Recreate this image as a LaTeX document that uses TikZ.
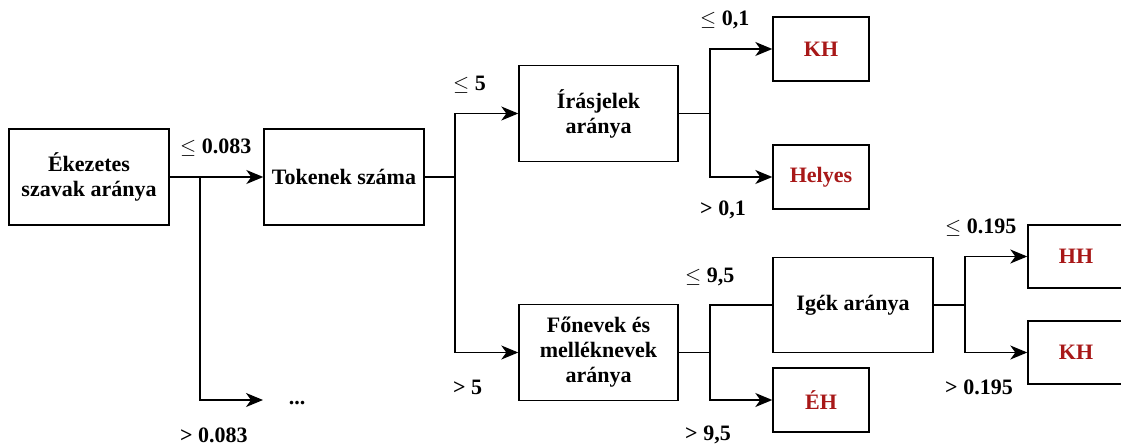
\documentclass[tikz,border=0pt]{standalone}
\usepackage{fontspec}
\setmainfont{Liberation Serif}
\usetikzlibrary{arrows.meta,positioning}
\definecolor{leafred}{RGB}{168,24,24}

\begin{document}
\begin{tikzpicture}[x=1pt,y=-1pt,
    font=\bfseries\fontsize{22}{25}\selectfont,
    box/.style={draw,line width=1.4pt,align=center,minimum width=160pt,minimum height=96pt},
    leaf/.style={draw,line width=1.4pt,text=leafred,minimum width=96pt,minimum height=64pt},
    cond/.style={anchor=west,inner sep=0pt},
    arr/.style={line width=1.4pt,-{Stealth[length=17pt,width=14pt,inset=5pt]}},
    ln/.style={line width=1.4pt}]
  \useasboundingbox (0,0) rectangle (1121,446);
  \clip (0,0) rectangle (1121,446);
  \node[box] (ek) at (89,177) {Ékezetes\\szavak aránya};
  \node[box] (tok) at (344,177) {Tokenek száma};
  \node[box,minimum width=159pt] (iras) at (598.5,113.5) {Írásjelek\\aránya};
  \node[box,minimum width=159pt] (fon) at (598.5,352.5) {Főnevek és\\melléknevek\\aránya};
  \node[box,minimum height=95pt] (ige) at (853,305) {Igék aránya};
  \node[leaf] (kh1) at (821,49) {KH};
  \node[leaf] (hely) at (821,177) {Helyes};
  \node[leaf] (eh) at (821,400) {ÉH};
  \node[leaf,minimum height=63pt] (hh) at (1076,256.5) {HH};
  \node[leaf,minimum height=63pt] (kh2) at (1076,352.5) {KH};
  \node (dots) at (297,403) {...};
  \coordinate (j1) at (200,177);
  \coordinate (j2) at (455,177);
  \coordinate (j3) at (710,113.5);
  \coordinate (j4) at (710,352.5);
  \coordinate (j5) at (965,305);
  \coordinate (d) at (263,400);
  % connectors
  \draw[arr] (ek.east) -- (tok.west);
  \draw[arr] (j1) |- (d);
  \draw[ln] (tok.east) -- (j2);
  \draw[arr] (j2) |- (iras.west);
  \draw[arr] (j2) |- (fon.west);
  \draw[ln] (iras.east) -- (j3);
  \draw[arr] (j3) |- (kh1.west);
  \draw[arr] (j3) |- (hely.west);
  \draw[ln] (fon.east) -- (j4);
  \draw[ln] (j4) |- (ige.west);
  \draw[arr] (j4) |- (eh.west);
  \draw[ln] (ige.east) -- (j5);
  \draw[arr] (j5) |- (hh.west);
  \draw[arr] (j5) |- (kh2.west);
  % conditions
  \node[cond] (c1) at (180,148) {$\leq$ 0.083};
  \node[cond] (c2) at (180,435) {> 0.083};
  \node[cond] (c3) at (453,85) {$\leq$ 5};
  \node[cond] (c4) at (453,387) {> 5};
  \node[cond] (c5) at (700,20) {$\leq$ 0,1};
  \node[cond] (c6) at (700,210) {> 0,1};
  \node[cond] (c7) at (685,277) {$\leq$ 9,5};
  \node[cond] (c8) at (685,435) {> 9,5};
  \node[cond] (c9) at (945,228) {$\leq$ 0.195};
  \node[cond] (c10) at (945,387) {> 0.195};
\end{tikzpicture}
\end{document}
